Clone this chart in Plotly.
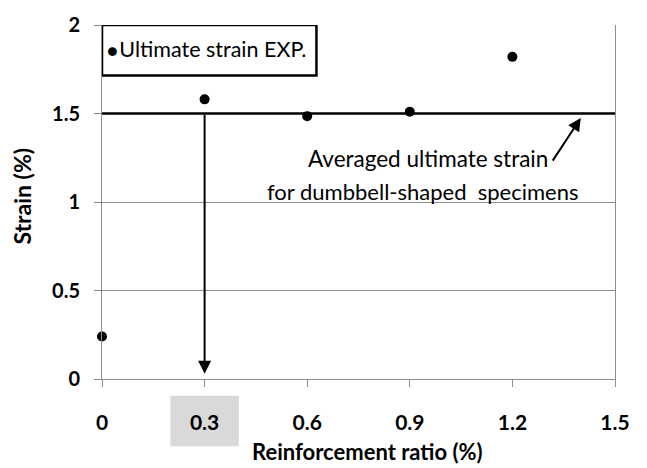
import plotly.graph_objects as go

# Data
reinforcement_ratio = [0.0, 0.3, 0.6, 0.9, 1.2]
ultimate_strain = [0.24, 1.58, 1.485, 1.51, 1.82]
avg_strain = 1.5
avg_x = [0.0, 1.5]
x_ticks = [0, 0.3, 0.6, 0.9, 1.2, 1.5]
x_tick_labels = ["0", "0.3", "0.6", "0.9", "1.2", "1.5"]
y_ticks = [0, 0.5, 1, 1.5, 2]
y_tick_labels = ["0", "0.5", "1", "1.5", "2"]
highlight_ratio = 0.3

FONT = "Lato"
GRID = "#8c8c8c"

fig = go.Figure()

fig.add_trace(go.Scatter(
    x=avg_x, y=[avg_strain] * len(avg_x), mode="lines",
    line=dict(color="black", width=2.5), showlegend=False, hoverinfo="skip",
    cliponaxis=False,
))
fig.add_trace(go.Scatter(
    x=reinforcement_ratio, y=ultimate_strain, mode="markers",
    marker=dict(color="black", size=10), name="Ultimate strain EXP.",
    showlegend=False, cliponaxis=False,
))

# Vertical arrow at 0.3
fig.add_annotation(
    x=highlight_ratio, y=0.03, ax=highlight_ratio, ay=avg_strain,
    xref="x", yref="y", axref="x", ayref="y", text="",
    showarrow=True, arrowhead=2, arrowsize=1.3, arrowwidth=2, arrowcolor="black",
)
# Diagonal arrow to average line
fig.add_annotation(
    x=1.40, y=1.475, ax=1.315, ay=1.225,
    xref="x", yref="y", axref="x", ayref="y", text="",
    showarrow=True, arrowhead=2, arrowsize=1.3, arrowwidth=2, arrowcolor="black",
)
fig.add_annotation(
    x=0.953, y=1.245, xref="x", yref="y", text="Averaged ultimate strain",
    showarrow=False, font=dict(family=FONT, size=22.5, color="black"),
    xanchor="center", yanchor="middle",
)
fig.add_annotation(
    x=0.939, y=1.06, xref="x", yref="y", text="for dumbbell-shaped  specimens",
    showarrow=False, font=dict(family=FONT, size=22, color="black"),
    xanchor="center", yanchor="middle",
)

# Legend box
fig.add_shape(type="rect", xref="x", yref="y", x0=0, x1=0.627, y0=1.715, y1=2.0,
              line=dict(color="black", width=2.5), fillcolor="white", layer="above")
fig.add_annotation(
    x=0.008, y=1.862, xref="x", yref="y", xanchor="left", yanchor="middle",
    text="<span style='font-size:18px'>●</span><span style='font-size:6px'> </span>Ultimate strain EXP.",
    showarrow=False, font=dict(family=FONT, size=21.5, color="black"),
)

# Grey highlight behind 0.3 label
fig.add_shape(type="rect", xref="x", yref="paper", x0=highlight_ratio - 0.1, x1=highlight_ratio + 0.1,
              y0=-0.19, y1=-0.047, line=dict(width=0), fillcolor="#d9d9d9", layer="below")

# Axis titles
fig.add_annotation(
    x=0.5185, y=-0.205, xref="paper", yref="paper", xanchor="center", yanchor="middle",
    text="Reinforcement ratio (%)", showarrow=False,
    font=dict(family=FONT, size=22, color="black", weight="bold"),
)
fig.add_annotation(
    x=-0.156, y=0.518, xref="paper", yref="paper", xanchor="center", yanchor="middle",
    text="Strain (%)", showarrow=False, textangle=-90,
    font=dict(family=FONT, size=23, color="black", weight="bold"),
)

fig.update_layout(
    width=647, height=468,
    margin=dict(l=102, r=32, t=22, b=89),
    paper_bgcolor="white", plot_bgcolor="white",
    font=dict(family=FONT, color="black"),
    showlegend=False,
)
fig.update_xaxes(
    range=[0, 1.5], tickvals=x_ticks, ticktext=x_tick_labels,
    showgrid=False, zeroline=False, showline=True, linecolor=GRID, linewidth=1,
    ticks="outside", ticklen=7, tickcolor=GRID,
    tickfont=dict(family=FONT, size=21, color="black", weight="bold"),
    ticklabelstandoff=18,
)
fig.update_yaxes(
    range=[0, 2], tickvals=y_ticks, ticktext=y_tick_labels,
    showgrid=True, gridcolor=GRID, gridwidth=1, zeroline=False,
    showline=True, mirror=True, linecolor=GRID, linewidth=1,
    ticks="outside", ticklen=7, tickcolor=GRID,
    tickfont=dict(family=FONT, size=20, color="black", weight="bold"),
    ticklabelstandoff=10,
)

fig.write_html("out.html")
